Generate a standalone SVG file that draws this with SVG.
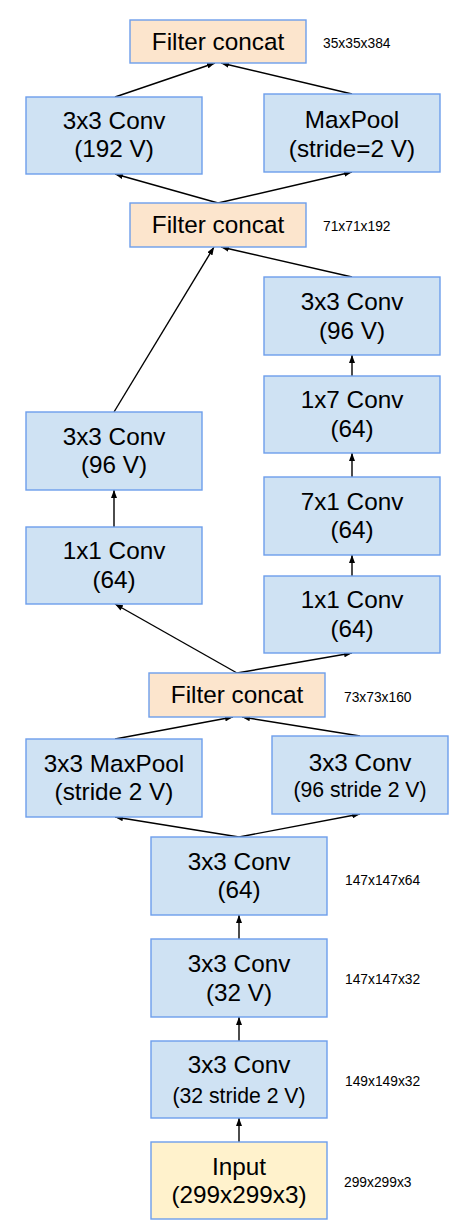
<svg xmlns="http://www.w3.org/2000/svg" width="474" height="1227" viewBox="0 0 474 1227">
<style>
.b{fill:#cfe2f3;stroke:#6d9eeb;stroke-width:1.4}
.c{fill:#fce5cd;stroke:#6d9eeb;stroke-width:1.4}
.i{fill:#fff2cc;stroke:#6d9eeb;stroke-width:1.4}
text{font-family:"Liberation Sans",Arial,sans-serif;fill:#000;text-anchor:middle}
.t{font-size:24.3px}
.s{font-size:21.2px}
.l{font-size:13.8px;text-anchor:start}
.e{stroke:#000;stroke-width:1.4;fill:none;marker-end:url(#a)}
</style>
<defs>
<marker id="a" viewBox="0 0 8 6" refX="8" refY="3" markerWidth="8" markerHeight="6" markerUnits="userSpaceOnUse" orient="auto">
<path d="M0,0 L8,3 L0,6 Z" fill="#000"/>
</marker>
</defs>
<g id="connectors">
<line class="e" x1="115" y1="97" x2="215" y2="63"/>
<line class="e" x1="352" y1="94" x2="221" y2="63"/>
<line class="e" x1="218" y1="203" x2="115" y2="174"/>
<line class="e" x1="218" y1="203" x2="352" y2="172"/>
<line class="e" x1="114" y1="412" x2="214" y2="247"/>
<line class="e" x1="352" y1="277" x2="221" y2="247"/>
<line class="e" x1="352" y1="376" x2="352" y2="355"/>
<line class="e" x1="352" y1="477" x2="352" y2="453"/>
<line class="e" x1="352" y1="576" x2="352" y2="555"/>
<line class="e" x1="114" y1="527" x2="114" y2="490"/>
<line class="e" x1="237" y1="673" x2="115" y2="604"/>
<line class="e" x1="237" y1="673" x2="352" y2="653"/>
<line class="e" x1="115" y1="739" x2="233" y2="717"/>
<line class="e" x1="360" y1="736" x2="242" y2="717"/>
<line class="e" x1="239" y1="837" x2="115" y2="817"/>
<line class="e" x1="239" y1="837" x2="360" y2="814"/>
<line class="e" x1="239" y1="939" x2="239" y2="915"/>
<line class="e" x1="239" y1="1041" x2="239" y2="1017"/>
<line class="e" x1="239" y1="1142" x2="239" y2="1118"/>
</g>
<g id="concat1"><rect class="c" x="130" y="20" width="176" height="43"/><text class="t" x="218" y="50">Filter concat</text><text class="l" x="323" y="48">35x35x384</text></g>
<g id="conv192"><rect class="b" x="26" y="97" width="176" height="77"/><text class="t" x="114" y="129">3x3 Conv</text><text class="t" x="114" y="157">(192 V)</text></g>
<g id="maxpool"><rect class="b" x="264" y="94" width="176" height="78"/><text class="t" x="352" y="128">MaxPool</text><text class="t" x="352" y="157">(stride=2 V)</text></g>
<g id="concat2"><rect class="c" x="130" y="203" width="176" height="44"/><text class="t" x="218" y="233">Filter concat</text><text class="l" x="323" y="231">71x71x192</text></g>
<g id="convR96"><rect class="b" x="264" y="277" width="176" height="78"/><text class="t" x="352" y="310">3x3 Conv</text><text class="t" x="352" y="339">(96 V)</text></g>
<g id="conv1x7"><rect class="b" x="264" y="376" width="176" height="77"/><text class="t" x="352" y="408">1x7 Conv</text><text class="t" x="352" y="437">(64)</text></g>
<g id="conv7x1"><rect class="b" x="264" y="477" width="176" height="78"/><text class="t" x="352" y="510">7x1 Conv</text><text class="t" x="352" y="538">(64)</text></g>
<g id="convR1x1"><rect class="b" x="264" y="576" width="176" height="77"/><text class="t" x="352" y="608">1x1 Conv</text><text class="t" x="352" y="637">(64)</text></g>
<g id="convL96"><rect class="b" x="26" y="412" width="176" height="78"/><text class="t" x="114" y="445">3x3 Conv</text><text class="t" x="114" y="473">(96 V)</text></g>
<g id="convL1x1"><rect class="b" x="26" y="527" width="176" height="77"/><text class="t" x="114" y="559">1x1 Conv</text><text class="t" x="114" y="588">(64)</text></g>
<g id="concat3"><rect class="c" x="149" y="673" width="176" height="44"/><text class="t" x="237" y="703">Filter concat</text><text class="l" x="344" y="702">73x73x160</text></g>
<g id="maxpool3x3"><rect class="b" x="26" y="739" width="176" height="78"/><text class="t" x="114" y="772">3x3 MaxPool</text><text class="t" x="114" y="800">(stride 2 V)</text></g>
<g id="conv96s2"><rect class="b" x="272" y="736" width="176" height="78"/><text class="t" x="360" y="771">3x3 Conv</text><text class="s" x="360" y="797">(96 stride 2 V)</text></g>
<g id="conv64"><rect class="b" x="151" y="837" width="176" height="78"/><text class="t" x="239" y="870">3x3 Conv</text><text class="t" x="239" y="898">(64)</text><text class="l" x="345" y="885">147x147x64</text></g>
<g id="conv32"><rect class="b" x="151" y="939" width="176" height="78"/><text class="t" x="239" y="972">3x3 Conv</text><text class="t" x="239" y="1001">(32 V)</text><text class="l" x="345" y="984">147x147x32</text></g>
<g id="conv32s2"><rect class="b" x="151" y="1041" width="176" height="77"/><text class="t" x="239" y="1073">3x3 Conv</text><text class="s" x="239" y="1103">(32 stride 2 V)</text><text class="l" x="345" y="1086">149x149x32</text></g>
<g id="input"><rect class="i" x="151" y="1142" width="176" height="77"/><text class="t" x="239" y="1175">Input</text><text class="t" x="239" y="1203">(299x299x3)</text><text class="l" x="344" y="1187">299x299x3</text></g>
</svg>
